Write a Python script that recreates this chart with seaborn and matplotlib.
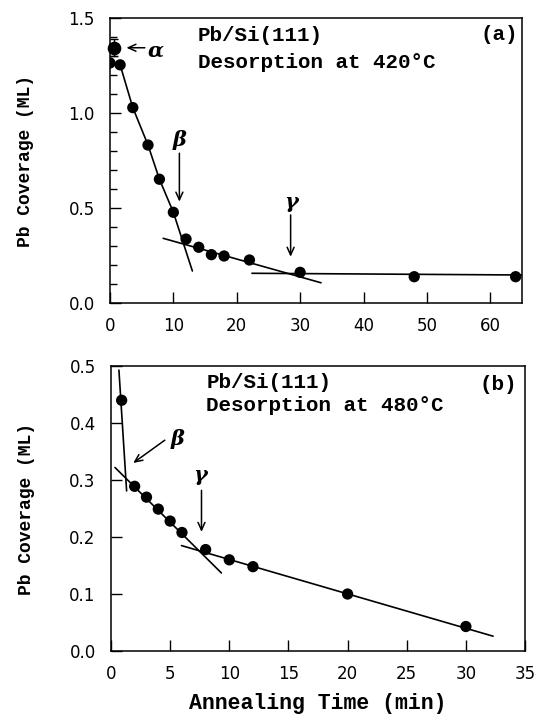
import matplotlib
matplotlib.use("Agg")
from matplotlib import pyplot as plt
import seaborn as sns

# ==============================================================================
# DATA
# ==============================================================================
# (a) desorption at 420 C
time_a = [0.0, 1.6, 3.6, 6.0, 7.8, 10.0, 12.0, 14.0, 16.0, 18.0, 22.0, 30.0, 48.0, 64.0]
cov_a = [1.265, 1.255, 1.03, 0.833, 0.653, 0.479, 0.338, 0.295, 0.256, 0.249, 0.228, 0.163, 0.14, 0.14]
alpha_time = [0.6]
alpha_cov = [1.345]
alpha_err = [0.045]

# guide lines drawn on panel (a)
fit_a1_x = [1.6, 3.6, 6.0, 7.8, 10.0, 13.0]
fit_a1_y = [1.255, 1.03, 0.833, 0.653, 0.479, 0.17]
fit_a2_x = [8.4, 33.3]
fit_a2_y = [0.342, 0.108]
fit_a3_x = [22.4, 65.0]
fit_a3_y = [0.158, 0.149]

# (b) desorption at 480 C
time_b = [0.9, 2, 3, 4, 5, 6, 8, 10, 12, 20, 30]
cov_b = [0.44, 0.289, 0.27, 0.249, 0.228, 0.208, 0.178, 0.16, 0.148, 0.10, 0.043]

fit_b1_x = [0.67, 1.32]
fit_b1_y = [0.493, 0.281]
fit_b2_x = [0.34, 9.33]
fit_b2_y = [0.322, 0.137]
fit_b3_x = [5.96, 32.3]
fit_b3_y = [0.185, 0.026]

# ==============================================================================
# STYLE
# ==============================================================================
sns.set_style("ticks")
plt.rcParams["font.family"] = ["DejaVu Sans"]
plt.rcParams["xtick.direction"] = "in"
plt.rcParams["ytick.direction"] = "in"
for key in ["text.color", "axes.labelcolor", "xtick.color", "ytick.color", "axes.edgecolor"]:
    plt.rcParams[key] = "black"

MONO = "Liberation Mono"
GREEK = dict(family="DejaVu Serif", style="italic", weight="bold", fontsize=15)
TXT = dict(family=MONO, weight="bold", fontsize=15)
LW = 1.2
MS = 66
ARROW = dict(arrowstyle="->,head_length=0.55,head_width=0.25", color="black", lw=1.1,
             shrinkA=0, shrinkB=0)

fig = plt.figure(figsize=(5.37, 7.15), dpi=100)
ax_a = fig.add_axes([0.2048, 0.5758, 0.7672, 0.3986])
ax_b = fig.add_axes([0.2067, 0.0895, 0.7710, 0.3985])

# ==============================================================================
# PANEL (a)
# ==============================================================================
for fx, fy in [(fit_a1_x, fit_a1_y), (fit_a2_x, fit_a2_y), (fit_a3_x, fit_a3_y)]:
    sns.lineplot(x=fx, y=fy, ax=ax_a, color="black", lw=LW, sort=False, estimator=None)
sns.scatterplot(x=time_a, y=cov_a, ax=ax_a, color="black", s=MS, edgecolor="none", zorder=5)
ax_a.errorbar(alpha_time, alpha_cov, yerr=alpha_err, fmt="o", color="black", ms=8.8,
              capsize=3, elinewidth=1, zorder=6, clip_on=False)

ax_a.annotate("", xy=(2.6, 1.345), xytext=(5.5, 1.345), arrowprops=ARROW)
ax_a.text(7.2, 1.33, "α", ha="center", va="center", **GREEK)
ax_a.annotate("", xy=(10.95, 0.535), xytext=(10.95, 0.79), arrowprops=ARROW)
ax_a.text(11.05, 0.86, "β", ha="center", va="center", **GREEK)
ax_a.annotate("", xy=(28.5, 0.245), xytext=(28.5, 0.465), arrowprops=ARROW)
ax_a.text(28.5, 0.535, "γ", ha="center", va="center", **GREEK)

ax_a.text(13.9, 1.407, "Pb/Si(111)", va="center", **TXT)
ax_a.text(13.9, 1.27, "Desorption at 420°C", va="center", **TXT)
ax_a.text(64.4, 1.417, "(a)", va="center", ha="right", **TXT)

ax_a.set_xlim(0, 65)
ax_a.set_ylim(0, 1.5)
ax_a.set_xticks(range(0, 70, 10))
ax_a.set_yticks([0.0, 0.5, 1.0, 1.5])
ax_a.set_yticks([i / 10 for i in range(16)], minor=True)
ax_a.set_yticklabels(["0.0", "0.5", "1.0", "1.5"])

# ==============================================================================
# PANEL (b)
# ==============================================================================
for fx, fy in [(fit_b1_x, fit_b1_y), (fit_b2_x, fit_b2_y), (fit_b3_x, fit_b3_y)]:
    sns.lineplot(x=fx, y=fy, ax=ax_b, color="black", lw=LW, sort=False, estimator=None)
sns.scatterplot(x=time_b, y=cov_b, ax=ax_b, color="black", s=MS, edgecolor="none", zorder=5)

ax_b.annotate("", xy=(1.88, 0.33), xytext=(4.55, 0.37), arrowprops=ARROW)
ax_b.text(5.6, 0.372, "β", ha="center", va="center", **GREEK)
ax_b.annotate("", xy=(7.65, 0.209), xytext=(7.65, 0.282), arrowprops=ARROW)
ax_b.text(7.5, 0.308, "γ", ha="center", va="center", **GREEK)

ax_b.text(8.07, 0.472, "Pb/Si(111)", va="center", **TXT)
ax_b.text(8.07, 0.43, "Desorption at 480°C", va="center", **TXT)
ax_b.text(34.3, 0.468, "(b)", va="center", ha="right", **TXT)

ax_b.set_xlim(0, 35)
ax_b.set_ylim(0, 0.5)
ax_b.set_xticks(range(0, 40, 5))
ax_b.set_yticks([i / 10 for i in range(6)])
ax_b.set_yticklabels(["0.0", "0.1", "0.2", "0.3", "0.4", "0.5"])
ax_b.set_xlabel("Annealing Time (min)", family=MONO, weight="bold", fontsize=15.5, labelpad=7)

for ax in (ax_a, ax_b):
    ax.set_ylabel("Pb Coverage (ML)", family=MONO, weight="bold", fontsize=13, labelpad=25)
    ax.tick_params(which="major", length=8, width=1, labelsize=12)
    ax.tick_params(axis="y", pad=11)
    ax.tick_params(axis="x", pad=10)
    ax.tick_params(which="minor", length=5, width=1)
    ax.tick_params(top=False, right=False)
    for sp in ax.spines.values():
        sp.set_visible(True)
        sp.set_linewidth(1.1)
        sp.set_color("black")

fig.savefig("out.png", dpi=100)
